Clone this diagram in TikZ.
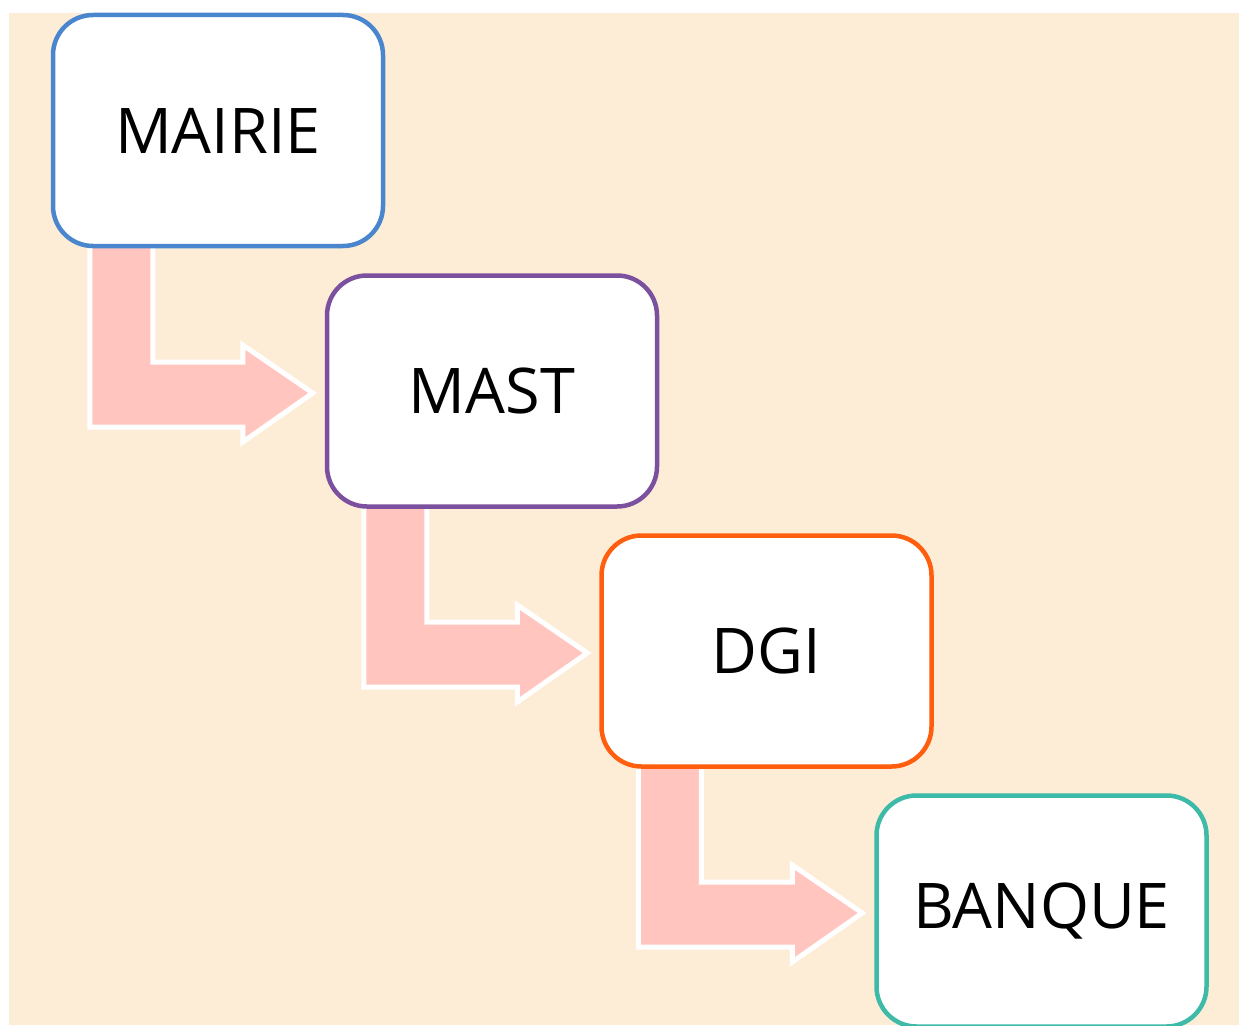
\documentclass[tikz,border=0pt]{standalone}
\usepackage{fontspec}
\setmainfont{Open Sans}
\usepackage{tikz}
\usetikzlibrary{calc}
\definecolor{creambg}{RGB}{253,237,214}
\definecolor{flowpink}{RGB}{255,197,190}
\definecolor{mairieblue}{RGB}{74,134,206}
\definecolor{mastpurple}{RGB}{123,80,158}
\definecolor{dgiorange}{RGB}{255,94,14}
\definecolor{banqueteal}{RGB}{62,186,168}
\pgfdeclarelayer{background}
\pgfsetlayers{background,main}

\begin{document}
\begin{tikzpicture}[
    x=1pt, y=-1pt,
    every node/.style={font=\fontsize{63}{70}\selectfont},
    stage/.style={draw, line width=4.5pt, fill=white, rounded corners=40pt, minimum width=330pt, minimum height=231pt, inner sep=0pt},
    flow/.style={fill=flowpink, draw=white, line width=5pt}
  ]
    \useasboundingbox (0,0) rectangle (1239,1025);

    \node[stage, draw=mairieblue] (mairie) at (218,130.5) {MAIRIE};
    \node[stage, draw=mastpurple] (mast) at (492,391) {MAST};
    \node[stage, draw=dgiorange] (dgi) at (766.5,651) {DGI};
    \node[stage, draw=banqueteal] (banque) at (1041.5,911) {BANQUE};

    % bent arrows, behind the boxes
    \begin{pgfonlayer}{background}
      \fill[creambg] (9,13) rectangle (1239,1025);
      \foreach \src/\dst in {mairie/mast, mast/dgi, dgi/banque} {
        \draw[flow]
          ($(\src.south west)+(39,-10)$) -- ($(\src.south west)+(102,-10)$)
          |- ($(\dst.west)+(-82,-29)$) -- ($(\dst.west)+(-82,-46)$)
          -- ($(\dst.west)+(-12,2)$) -- ($(\dst.west)+(-82,51)$)
          -- ($(\dst.west)+(-82,36)$) -| cycle;
      }
    \end{pgfonlayer}
  \end{tikzpicture}
\end{document}
